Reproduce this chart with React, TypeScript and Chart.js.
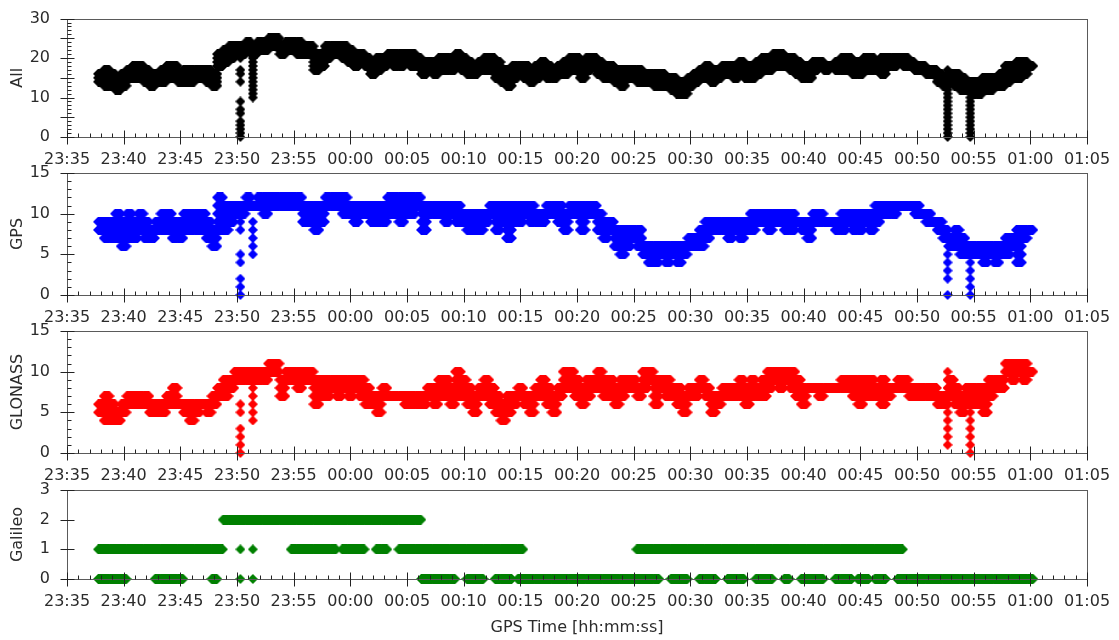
import { useEffect, useRef } from "react";
import { Chart, registerables } from "chart.js";

Chart.register(...registerables);

// Epoch grid: minutes after 23:35:00, one epoch every 30 s (23:38:00 … 01:00:00)
const EPOCH_START_MIN = 3;
const EPOCH_STEP_MIN = 0.5;

// Tick labels along the time axis, every 5 minutes from 23:35
const timeTickLabels = [
  "23:35", "23:40", "23:45", "23:50", "23:55", "00:00", "00:05", "00:10", "00:15", "00:20",
  "00:25", "00:30", "00:35", "00:40", "00:45", "00:50", "00:55", "01:00", "01:05",
];

type Range = [number, number];

// Number of satellites in view per 30 s epoch: [lowest, highest] count seen in the epoch
const allRange: Range[] = [
  [14, 16], [13, 17], [13, 16], [12, 15],
  [13, 16], [15, 17], [15, 18], [15, 18], [14, 17], [13, 16], [14, 16], [14, 17], [15, 18], [15, 18],
  [14, 16], [14, 17], [14, 17], [15, 17], [15, 17], [14, 17], [13, 16], [18, 21], [19, 22], [20, 23],
  [21, 23], [21, 23], [22, 24], [21, 23], [22, 24], [22, 24], [23, 25], [23, 25], [21, 23], [22, 24],
  [22, 24], [21, 24], [21, 23], [21, 23], [17, 21], [18, 21], [20, 23], [21, 23], [21, 23], [20, 23],
  [19, 22], [18, 21], [19, 21], [18, 20], [16, 19], [17, 20], [18, 20], [19, 21], [18, 21], [18, 21],
  [19, 21], [18, 21], [18, 20], [16, 19], [17, 19], [16, 19], [17, 20], [17, 20], [17, 20], [18, 21],
  [17, 20], [16, 19], [16, 18], [17, 19], [17, 20], [17, 20], [15, 19], [14, 17], [13, 17], [15, 18],
  [16, 18], [15, 18], [14, 17], [15, 18], [16, 19], [15, 18], [15, 17], [16, 18], [16, 19], [17, 20],
  [17, 20], [15, 19], [17, 20], [18, 20], [16, 19], [15, 18], [15, 18], [14, 17], [13, 17], [15, 17],
  [15, 17], [14, 17], [14, 16], [14, 16], [13, 16], [13, 16], [13, 15], [12, 15], [11, 14], [11, 14],
  [13, 15], [14, 16], [15, 17], [15, 18], [14, 17], [15, 17], [16, 18], [16, 18], [15, 18], [16, 19],
  [15, 18], [15, 18], [16, 19], [17, 20], [17, 20], [18, 21], [18, 21], [18, 20], [17, 20], [16, 19],
  [15, 18], [15, 18], [17, 19], [18, 19], [17, 18], [18, 18], [17, 19], [17, 20], [17, 20], [16, 19],
  [16, 19], [17, 20], [17, 20], [17, 19], [16, 20], [18, 20], [18, 20], [19, 20], [18, 20], [18, 19],
  [17, 18], [17, 18], [16, 17], [16, 17], [14, 16], [13, 15], [14, 16], [13, 16], [12, 15], [12, 14],
  [11, 14], [11, 14], [12, 15], [12, 15], [13, 15], [13, 16], [14, 18], [15, 18], [15, 19], [16, 19],
  [18, 18],
];

const gpsRange: Range[] = [
  [8, 9], [7, 9], [7, 9], [7, 10],
  [6, 9], [7, 10], [7, 9], [8, 10], [7, 9], [7, 8], [8, 9], [8, 10], [8, 10], [7, 9],
  [7, 9], [8, 10], [8, 10], [8, 10], [8, 10], [7, 9], [6, 8], [8, 12], [8, 11], [9, 11],
  [10, 11], [10, 11], [11, 12], [11, 11], [11, 12], [10, 12], [11, 12], [11, 12], [11, 12], [11, 12],
  [11, 12], [11, 12], [9, 11], [9, 11], [8, 11], [9, 11], [11, 12], [11, 12], [11, 12], [10, 12],
  [10, 11], [9, 11], [10, 11], [10, 11], [9, 11], [9, 11], [9, 11], [10, 12], [10, 12], [9, 12],
  [10, 12], [10, 12], [11, 12], [8, 11], [10, 11], [10, 11], [10, 11], [9, 11], [10, 11], [9, 11],
  [9, 10], [8, 10], [8, 10], [8, 10], [9, 10], [10, 11], [8, 11], [9, 11], [7, 11], [9, 11],
  [9, 11], [10, 11], [9, 11], [9, 10], [9, 10], [10, 11], [10, 11], [9, 11], [8, 10], [10, 11],
  [10, 11], [8, 11], [10, 11], [10, 11], [8, 10], [7, 9], [8, 9], [6, 8], [5, 8], [6, 8],
  [7, 8], [6, 8], [5, 6], [4, 6], [4, 6], [5, 6], [4, 6], [5, 6], [4, 6], [5, 6],
  [6, 7], [6, 7], [6, 8], [7, 9], [8, 9], [8, 9], [8, 9], [7, 9], [8, 9], [7, 9],
  [8, 9], [8, 10], [9, 10], [9, 10], [8, 10], [9, 10], [9, 10], [8, 10], [8, 10], [9, 9],
  [8, 9], [7, 9], [9, 10], [9, 10], [9, 9], [9, 9], [8, 9], [8, 10], [9, 10], [8, 10],
  [8, 10], [9, 10], [8, 10], [9, 11], [10, 11], [10, 11], [10, 11], [11, 11], [11, 11], [11, 11],
  [10, 11], [10, 10], [9, 10], [9, 9], [8, 9], [7, 8], [6, 7], [6, 8], [5, 7], [5, 6],
  [5, 6], [5, 6], [4, 6], [5, 6], [4, 6], [5, 6], [5, 7], [6, 7], [4, 8], [7, 8],
  [8, 8],
];

const glonassRange: Range[] = [
  [5, 6], [4, 7], [4, 6], [4, 5],
  [5, 6], [6, 7], [6, 7], [6, 7], [6, 7], [5, 6], [5, 6], [5, 6], [6, 7], [6, 8],
  [6, 6], [5, 6], [4, 6], [5, 6], [6, 6], [5, 6], [6, 7], [7, 8], [7, 9], [8, 9],
  [9, 10], [9, 10], [9, 10], [9, 10], [9, 10], [9, 10], [10, 11], [10, 11], [7, 9], [9, 10],
  [9, 10], [8, 10], [9, 10], [9, 10], [6, 9], [7, 9], [7, 9], [8, 9], [7, 9], [8, 9],
  [7, 9], [8, 9], [7, 9], [6, 8], [6, 7], [5, 7], [7, 8], [7, 7], [7, 7], [7, 7],
  [6, 7], [6, 7], [6, 7], [6, 7], [7, 8], [6, 8], [7, 9], [7, 9], [6, 8], [7, 10],
  [7, 9], [6, 8], [5, 7], [7, 8], [7, 9], [6, 8], [5, 7], [4, 6], [5, 7], [6, 7],
  [7, 8], [6, 7], [5, 7], [7, 8], [7, 9], [6, 8], [5, 7], [7, 8], [8, 10], [8, 10],
  [7, 9], [6, 8], [7, 9], [8, 9], [8, 10], [7, 9], [7, 9], [6, 8], [7, 9], [8, 9],
  [8, 9], [7, 8], [8, 10], [9, 10], [6, 9], [8, 9], [7, 9], [7, 8], [6, 8], [5, 7],
  [7, 8], [7, 8], [8, 9], [7, 8], [5, 7], [6, 7], [7, 8], [7, 8], [7, 8], [7, 9],
  [6, 8], [7, 9], [7, 8], [7, 9], [8, 10], [9, 10], [8, 10], [9, 10], [8, 10], [7, 9],
  [6, 8], [8, 8], [8, 8], [7, 8], [8, 8], [8, 8], [8, 8], [8, 9], [8, 9], [7, 9],
  [6, 9], [7, 9], [7, 9], [7, 8], [6, 9], [7, 8], [8, 8], [8, 9], [8, 9], [7, 8],
  [7, 8], [7, 8], [7, 8], [7, 8], [6, 7], [6, 7], [7, 9], [6, 8], [5, 7], [6, 8],
  [6, 8], [6, 8], [5, 8], [7, 9], [8, 9], [8, 9], [10, 11], [9, 11], [10, 11], [9, 11],
  [10, 10],
];

const galileoRange: Range[] = [
  [0, 1], [0, 1], [0, 1], [0, 1],
  [0, 1], [1, 1], [1, 1], [1, 1], [1, 1], [1, 1], [0, 1], [0, 1], [0, 1], [0, 1],
  [0, 1], [1, 1], [1, 1], [1, 1], [1, 1], [1, 1], [0, 1], [1, 1], [2, 2], [2, 2],
  [2, 2], [2, 2], [2, 2], [2, 2], [2, 2], [2, 2], [2, 2], [2, 2], [2, 2], [2, 2],
  [1, 2], [1, 2], [1, 2], [1, 2], [1, 2], [1, 2], [1, 2], [1, 2], [2, 2], [1, 2],
  [1, 2], [1, 2], [1, 2], [2, 2], [2, 2], [1, 2], [1, 2], [2, 2], [2, 2], [1, 2],
  [1, 2], [1, 2], [1, 2], [0, 1], [0, 1], [0, 1], [0, 1], [0, 1], [0, 1], [1, 1],
  [1, 1], [0, 1], [0, 1], [0, 1], [1, 1], [1, 1], [0, 1], [0, 1], [0, 1], [1, 1],
  [0, 1], [0, 0], [0, 0], [0, 0], [0, 0], [0, 0], [0, 0], [0, 0], [0, 0], [0, 0],
  [0, 0], [0, 0], [0, 0], [0, 0], [0, 0], [0, 0], [0, 0], [0, 0], [0, 0], [0, 0],
  [0, 0], [0, 1], [0, 1], [0, 1], [0, 1], [1, 1], [1, 1], [0, 1], [0, 1], [0, 1],
  [1, 1], [1, 1], [0, 1], [0, 1], [0, 1], [1, 1], [1, 1], [0, 1], [0, 1], [0, 1],
  [1, 1], [1, 1], [0, 1], [0, 1], [0, 1], [1, 1], [1, 1], [0, 1], [1, 1], [1, 1],
  [0, 1], [0, 1], [0, 1], [0, 1], [1, 1], [1, 1], [0, 1], [0, 1], [0, 1], [1, 1],
  [0, 1], [0, 1], [1, 1], [0, 1], [0, 1], [1, 1], [1, 1], [0, 1], [0, 0], [0, 0],
  [0, 0], [0, 0], [0, 0], [0, 0], [0, 0], [0, 0], [0, 0], [0, 0], [0, 0], [0, 0],
  [0, 0], [0, 0], [0, 0], [0, 0], [0, 0], [0, 0], [0, 0], [0, 0], [0, 0], [0, 0],
  [0, 0],
];

// Short signal outages: every count logged while tracking collapsed (minutes after 23:35)
const outageTimes = [15.3, 16.4, 77.7, 79.7];
const allOutage = [
  [20, 17, 16, 14, 9, 7, 6, 4, 3, 2, 1, 0],
  [20, 19, 18, 17, 16, 15, 14, 13, 12, 11, 10],
  [17, 16, 15, 14, 13, 12, 11, 10, 9, 8, 7, 6, 5, 4, 3, 2, 1, 0],
  [10, 9, 8, 7, 6, 5, 4, 3, 2, 1, 0],
];
const gpsOutage = [
  [10, 9, 8, 5, 4, 2, 1, 0],
  [9, 8, 7, 6, 5],
  [5, 4, 3, 2, 0],
  [4, 3, 2, 1, 0],
];
const glonassOutage = [
  [6, 5, 3, 2, 1, 0],
  [8, 7, 6, 5, 4],
  [10, 9, 8, 7, 6, 5, 4, 3, 2, 1],
  [8, 7, 6, 5, 4, 3, 2, 1, 0],
];
const galileoOutage = [[1, 0], [1, 0], [], []];

const FONT = "'DejaVu Sans', 'Liberation Sans', sans-serif";
const TEXT = "#2b2b2b";
const PLOT_LEFT = 67;
const PLOT_RIGHT = 1087;
const MARKER_R = 4.7;

function epochPoints(ranges: Range[]) {
  const pts: { x: number; y: number }[] = [];
  ranges.forEach(([lo, hi], i) => {
    const t = EPOCH_START_MIN + i * EPOCH_STEP_MIN;
    for (let v = lo; v <= hi; v++) pts.push({ x: t, y: v });
  });
  return pts;
}

function outagePoints(outages: number[][]) {
  const pts: { x: number; y: number }[] = [];
  outages.forEach((vals, k) => {
    vals.forEach((v) => pts.push({ x: outageTimes[k], y: v }));
  });
  return pts;
}

// Marker image: a diamond, optionally swept across a 30 s epoch (flat-topped hexagon)
function markerImage(color: string, sweep: boolean) {
  const span = sweep ? ((PLOT_RIGHT - PLOT_LEFT) * EPOCH_STEP_MIN) / 90 : 0;
  const h = Math.ceil(2 * MARKER_R);
  const w = Math.ceil(span + h);
  const c = document.createElement("canvas");
  c.width = w;
  c.height = h;
  const g = c.getContext("2d")!;
  g.fillStyle = color;
  g.beginPath();
  g.moveTo(0, h / 2);
  g.lineTo(h / 2, 0);
  g.lineTo(w - h / 2, 0);
  g.lineTo(w, h / 2);
  g.lineTo(w - h / 2, h);
  g.lineTo(h / 2, h);
  g.closePath();
  g.fill();
  return c;
}

// Axis frame with matplotlib-like inward minor ticks and in/out major ticks
const frameTicks = {
  id: "frameTicks",
  afterDatasetsDraw(chart: any, _args: any, opts: any) {
    const { ctx, chartArea } = chart;
    const { left, right, top, bottom } = chartArea;
    const xs = chart.scales.x;
    const ys = chart.scales.y;
    ctx.save();
    ctx.lineWidth = 1;
    ctx.strokeStyle = "#5a5a5a";
    ctx.strokeRect(Math.round(left) + 0.5, Math.round(top) + 0.5, Math.round(right - left), Math.round(bottom - top));
    ctx.strokeStyle = "#222";
    ctx.beginPath();
    const by = Math.round(bottom) + 0.5;
    for (let m = xs.min; m <= xs.max; m += 1) {
      const px = Math.round(xs.getPixelForValue(m)) + 0.5;
      if (m % 5 === 0) {
        ctx.moveTo(px, by + 7);
        ctx.lineTo(px, by - 7);
      } else {
        ctx.moveTo(px, by);
        ctx.lineTo(px, by - 4);
      }
    }
    const lx = Math.round(left) + 0.5;
    for (let v = ys.min; v <= ys.max + 1e-9; v += opts.minor) {
      const py = Math.round(ys.getPixelForValue(v)) + 0.5;
      if (Math.abs(v % opts.major) < 1e-9) {
        ctx.moveTo(lx - 7, py);
        ctx.lineTo(lx + 7, py);
      } else {
        ctx.moveTo(lx, py);
        ctx.lineTo(lx + 4, py);
      }
    }
    ctx.stroke();
    ctx.restore();
  },
};

const panels = [
  { name: "All", ranges: allRange, outages: allOutage, color: "#000000", yMax: 30, yStep: 10, major: 5, minor: 1, top: 0, height: 167, padTop: 14, axisH: 30, xTitle: "" },
  { name: "GPS", ranges: gpsRange, outages: gpsOutage, color: "#0000ff", yMax: 15, yStep: 5, major: 5, minor: 1, top: 148, height: 177, padTop: 25, axisH: 30, xTitle: "" },
  { name: "GLONASS", ranges: glonassRange, outages: glonassOutage, color: "#ff0000", yMax: 15, yStep: 5, major: 5, minor: 1, top: 306, height: 177, padTop: 25, axisH: 30, xTitle: "" },
  { name: "Galileo", ranges: galileoRange, outages: galileoOutage, color: "#008000", yMax: 3, yStep: 1, major: 1, minor: 1, top: 464, height: 176, padTop: 26, axisH: 61, xTitle: "GPS Time [hh:mm:ss]" },
];

function Panel({ p }: { p: (typeof panels)[number] }) {
  const ref = useRef<HTMLCanvasElement | null>(null);
  useEffect(() => {
    if (!ref.current) return;
    const chart = new Chart(ref.current, {
      type: "scatter",
      data: {
        datasets: [
          {
            data: epochPoints(p.ranges),
            pointStyle: markerImage(p.color, true),
            pointRadius: MARKER_R,
            backgroundColor: p.color,
            borderColor: p.color,
            clip: false,
          } as any,
          {
            data: outagePoints(p.outages),
            pointStyle: markerImage(p.color, false),
            pointRadius: MARKER_R,
            backgroundColor: p.color,
            borderColor: p.color,
            clip: false,
          } as any,
        ],
      },
      options: {
        responsive: false,
        animation: false,
        devicePixelRatio: 1,
        events: [],
        layout: { padding: { top: p.padTop, right: 32, left: 0, bottom: 0 } },
        plugins: {
          legend: { display: false },
          tooltip: { enabled: false },
          frameTicks: { major: p.major, minor: p.minor },
        } as any,
        scales: {
          x: {
            type: "linear",
            min: 0,
            max: 90,
            afterFit: (s: any) => {
              s.height = p.axisH;
            },
            grid: { display: false },
            border: { display: false },
            ticks: {
              stepSize: 5,
              autoSkip: false,
              maxRotation: 0,
              padding: 5,
              color: TEXT,
              font: { family: FONT, size: 16 },
              callback: (v: any) => timeTickLabels[Math.round(Number(v) / 5)] ?? "",
            },
            title: {
              display: p.xTitle !== "",
              text: p.xTitle,
              color: TEXT,
              font: { family: FONT, size: 16 },
              padding: { top: 0, bottom: 3 },
            },
          },
          y: {
            type: "linear",
            min: 0,
            max: p.yMax,
            afterFit: (s: any) => {
              s.width = PLOT_LEFT;
            },
            grid: { display: false },
            border: { display: false },
            ticks: {
              stepSize: p.yStep,
              padding: 9,
              color: TEXT,
              font: { family: FONT, size: 16 },
            },
            title: {
              display: true,
              text: p.name,
              color: TEXT,
              font: { family: FONT, size: 16 },
              padding: { top: 8, bottom: 0 },
            },
          },
        },
      },
      plugins: [frameTicks],
    });
    return () => chart.destroy();
  }, [p]);
  return (
    <canvas
      ref={ref}
      width={1119}
      height={p.height}
      style={{ position: "absolute", left: 0, top: p.top, width: 1119, height: p.height }}
    />
  );
}

export default function App() {
  return (
    <div style={{ position: "fixed", left: 0, top: 0, width: 1119, height: 640, background: "#ffffff", overflow: "hidden" }}>
      {panels.map((p) => (
        <Panel key={p.name} p={p} />
      ))}
    </div>
  );
}
